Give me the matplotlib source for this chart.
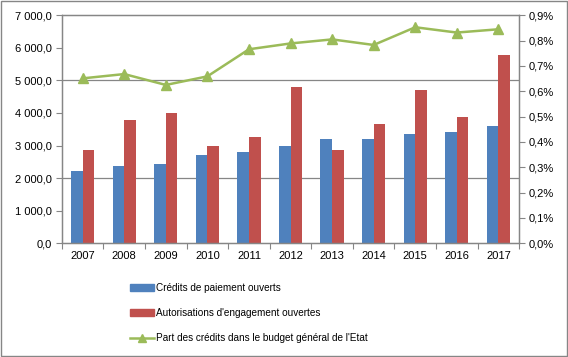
import matplotlib.pyplot as plt
import matplotlib.patches as mpatches
from matplotlib.ticker import FuncFormatter, MultipleLocator
import numpy as np

plt.rcParams['font.family'] = ['Liberation Sans', 'DejaVu Sans']

years = ['2007', '2008', '2009', '2010', '2011', '2012', '2013', '2014', '2015', '2016', '2017']
credits_paiement = [2222, 2377, 2438, 2716, 2808, 2994, 3210, 3210, 3364, 3426, 3611]
autorisations = [2865, 3786, 4000, 2987, 3264, 4800, 2865, 3663, 4707, 3878, 5782]
part_budget = [0.651, 0.668, 0.625, 0.659, 0.766, 0.789, 0.805, 0.783, 0.853, 0.832, 0.845]

blue = '#4F81BD'
red = '#C0504D'
green = '#9BBB59'
gray = '#868686'

fig = plt.figure(figsize=(5.68, 3.57), dpi=100)
ax = fig.add_axes([0.109, 0.319, 0.805, 0.638])
ax2 = ax.twinx()

x = np.arange(len(years))
w = 0.28
ax.bar(x - w / 2, credits_paiement, w, color=blue, zorder=2)
ax.bar(x + w / 2, autorisations, w, color=red, zorder=2)
for g in [2000, 5000]:
    ax.axhline(g, color=gray, lw=0.9, zorder=1)

ax2.plot(x, [v / 100 for v in part_budget], color=green, lw=1.8, marker='^', ms=7)

ax.set_xlim(-0.5, len(years) - 0.5)
ax.set_ylim(0, 7000)
ax2.set_ylim(0, 0.009)

ax.yaxis.set_major_locator(MultipleLocator(1000))
ax.yaxis.set_major_formatter(FuncFormatter(lambda v, p: f"{v:,.1f}".replace(',', ' ').replace('.', ',')))
ax2.yaxis.set_major_locator(MultipleLocator(0.001))
ax2.yaxis.set_major_formatter(FuncFormatter(lambda v, p: f"{v * 100:.1f}%".replace('.', ',')))

ax.set_xticks(np.arange(len(years) + 1) - 0.5)
ax.set_xticklabels([])
ax.set_xticks(x, minor=True)
ax.set_xticklabels(years, minor=True)
ax.tick_params(axis='x', which='major', length=4, color=gray)
ax.tick_params(axis='x', which='minor', length=0, labelsize=8, pad=6)
ax.tick_params(axis='y', length=4, color=gray, labelsize=8, pad=3)
ax2.tick_params(axis='y', length=4, color=gray, labelsize=8, pad=3)

for a in (ax, ax2):
    for s in a.spines.values():
        s.set_color(gray)
        s.set_linewidth(0.9)

legend_size = 7.2
handles = [mpatches.Patch(color=blue), mpatches.Patch(color=red),
           plt.Line2D([], [], color=green, lw=1.8, marker='^', ms=6)]
labels = ['Crédits de paiement ouverts', "Autorisations d'engagement ouvertes",
          "Part des crédits dans le budget général de l'Etat"]
fig.legend(handles, labels, loc='upper left', bbox_to_anchor=(0.221, 0.218),
           frameon=False, fontsize=legend_size,
           handlelength=24 / (legend_size * 100 / 72), handleheight=0.6,
           handletextpad=0.25, labelspacing=1.5, borderaxespad=0)

fig.patches.append(mpatches.Rectangle((0.001, 0.002), 0.997, 0.995, transform=fig.transFigure,
                                      fill=False, edgecolor=gray, lw=1))

fig.savefig('out.png', dpi=100)
